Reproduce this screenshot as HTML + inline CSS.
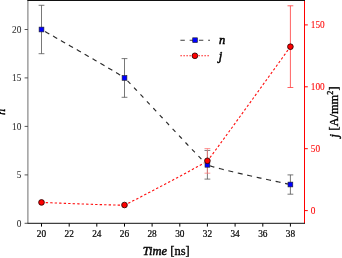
<!DOCTYPE html>
<html><head><meta charset="utf-8"><title>chart</title>
<style>svg{will-change:transform;opacity:.999}html,body{margin:0;padding:0;background:#fff;overflow:hidden}body{width:342px;height:258px;font-family:"Liberation Serif",serif}</style></head>
<body>
<svg width="342" height="258" viewBox="0 0 342 258" style="display:block;font-family:'Liberation Serif',serif">
<rect width="342" height="258" fill="#fff"/>
<line x1="27.9" y1="0" x2="27.9" y2="223.3" stroke="#7c7c7c" stroke-width="1.1"/>
<line x1="304.5" y1="0" x2="304.5" y2="223.3" stroke="#ff0000" stroke-width="1"/>
<line x1="27.4" y1="0.4" x2="305.0" y2="0.4" stroke="#111" stroke-width="1.05"/>
<line x1="27.4" y1="223.3" x2="305.0" y2="223.3" stroke="#111" stroke-width="1"/>
<line x1="41.5" y1="223.3" x2="41.5" y2="226.6" stroke="#000" stroke-width="1"/>
<text x="41.5" y="237" font-size="9.3" stroke="#000" stroke-width="0.2" text-anchor="middle" fill="#000">20</text>
<line x1="69.2" y1="223.3" x2="69.2" y2="226.6" stroke="#000" stroke-width="1"/>
<text x="69.2" y="237" font-size="9.3" stroke="#000" stroke-width="0.2" text-anchor="middle" fill="#000">22</text>
<line x1="96.8" y1="223.3" x2="96.8" y2="226.6" stroke="#000" stroke-width="1"/>
<text x="96.8" y="237" font-size="9.3" stroke="#000" stroke-width="0.2" text-anchor="middle" fill="#000">24</text>
<line x1="124.5" y1="223.3" x2="124.5" y2="226.6" stroke="#000" stroke-width="1"/>
<text x="124.5" y="237" font-size="9.3" stroke="#000" stroke-width="0.2" text-anchor="middle" fill="#000">26</text>
<line x1="152.1" y1="223.3" x2="152.1" y2="226.6" stroke="#000" stroke-width="1"/>
<text x="152.1" y="237" font-size="9.3" stroke="#000" stroke-width="0.2" text-anchor="middle" fill="#000">28</text>
<line x1="179.8" y1="223.3" x2="179.8" y2="226.6" stroke="#000" stroke-width="1"/>
<text x="179.8" y="237" font-size="9.3" stroke="#000" stroke-width="0.2" text-anchor="middle" fill="#000">30</text>
<line x1="207.4" y1="223.3" x2="207.4" y2="226.6" stroke="#000" stroke-width="1"/>
<text x="207.4" y="237" font-size="9.3" stroke="#000" stroke-width="0.2" text-anchor="middle" fill="#000">32</text>
<line x1="235.1" y1="223.3" x2="235.1" y2="226.6" stroke="#000" stroke-width="1"/>
<text x="235.1" y="237" font-size="9.3" stroke="#000" stroke-width="0.2" text-anchor="middle" fill="#000">34</text>
<line x1="262.8" y1="223.3" x2="262.8" y2="226.6" stroke="#000" stroke-width="1"/>
<text x="262.8" y="237" font-size="9.3" stroke="#000" stroke-width="0.2" text-anchor="middle" fill="#000">36</text>
<line x1="290.4" y1="223.3" x2="290.4" y2="226.6" stroke="#000" stroke-width="1"/>
<text x="290.4" y="237" font-size="9.3" stroke="#000" stroke-width="0.2" text-anchor="middle" fill="#000">38</text>
<line x1="24.6" y1="223.3" x2="27.9" y2="223.3" stroke="#444" stroke-width="0.9"/>
<text x="21.3" y="226.6" font-size="9.3" text-anchor="end" fill="#333" stroke="#333" stroke-width="0.08">0</text>
<line x1="24.6" y1="174.9" x2="27.9" y2="174.9" stroke="#444" stroke-width="0.9"/>
<text x="21.3" y="178.2" font-size="9.3" text-anchor="end" fill="#333" stroke="#333" stroke-width="0.08">5</text>
<line x1="24.6" y1="126.4" x2="27.9" y2="126.4" stroke="#444" stroke-width="0.9"/>
<text x="21.3" y="129.7" font-size="9.3" text-anchor="end" fill="#333" stroke="#333" stroke-width="0.08">10</text>
<line x1="24.6" y1="77.9" x2="27.9" y2="77.9" stroke="#444" stroke-width="0.9"/>
<text x="21.3" y="81.2" font-size="9.3" text-anchor="end" fill="#333" stroke="#333" stroke-width="0.08">15</text>
<line x1="24.6" y1="29.5" x2="27.9" y2="29.5" stroke="#444" stroke-width="0.9"/>
<text x="21.3" y="32.8" font-size="9.3" text-anchor="end" fill="#333" stroke="#333" stroke-width="0.08">20</text>
<line x1="304.5" y1="210.6" x2="307.8" y2="210.6" stroke="#ff0000" stroke-width="1"/>
<text x="310.8" y="213.9" font-size="9.3" text-anchor="start" fill="#ff0808" stroke="#ff0808" stroke-width="0.08">0</text>
<line x1="304.5" y1="148.7" x2="307.8" y2="148.7" stroke="#ff0000" stroke-width="1"/>
<text x="310.8" y="152.0" font-size="9.3" text-anchor="start" fill="#ff0808" stroke="#ff0808" stroke-width="0.08">50</text>
<line x1="304.5" y1="86.8" x2="307.8" y2="86.8" stroke="#ff0000" stroke-width="1"/>
<text x="310.8" y="90.1" font-size="9.3" text-anchor="start" fill="#ff0808" stroke="#ff0808" stroke-width="0.08">100</text>
<line x1="304.5" y1="24.9" x2="307.8" y2="24.9" stroke="#ff0000" stroke-width="1"/>
<text x="310.8" y="28.2" font-size="9.3" text-anchor="start" fill="#ff0808" stroke="#ff0808" stroke-width="0.08">150</text>
<path d="M41.5 5.3 V53.7 M38.6 5.3 H44.4 M38.6 53.7 H44.4" stroke="#555" stroke-width="0.8" fill="none"/>
<path d="M124.5 58.6 V97.3 M121.6 58.6 H127.4 M121.6 97.3 H127.4" stroke="#555" stroke-width="0.8" fill="none"/>
<path d="M207.4 150.4 V179.1 M204.5 150.4 H210.3 M204.5 179.1 H210.3" stroke="#555" stroke-width="0.8" fill="none"/>
<path d="M290.4 174.9 V194.2 M287.5 174.9 H293.3 M287.5 194.2 H293.3" stroke="#555" stroke-width="0.8" fill="none"/>
<path d="M207.4 148.5 V173.2 M204.5 148.5 H210.3 M204.5 173.2 H210.3" stroke="#ff7474" stroke-width="0.72" fill="none"/>
<path d="M290.4 5.8 V87.5 M287.5 5.8 H293.3 M287.5 87.5 H293.3" stroke="#ff4646" stroke-width="0.85" fill="none"/>
<path d="M45.14 31.55 L46.25 32.19 L47.49 32.89 L48.85 33.67 L50.32 34.51 L51.90 35.41 L53.58 36.36 L55.35 37.38 L57.21 38.44 L59.15 39.54 L61.16 40.69 L63.23 41.88 L65.37 43.10 L67.55 44.35 L69.79 45.63 L72.06 46.93 L74.36 48.25 L76.69 49.59 L79.04 50.94 L81.40 52.30 L83.76 53.66 L86.12 55.02 L88.48 56.38 L90.82 57.74 L93.13 59.08 L95.42 60.41 L97.67 61.72 L99.88 63.00 L102.05 64.27 L104.15 65.50 L106.19 66.70 L108.16 67.86 L110.06 68.98 L111.88 70.06 L113.60 71.09 L115.23 72.06 L116.75 72.98 L118.16 73.84 L119.46 74.64 L120.63 75.37 L121.17 75.71" fill="none" stroke="#2a2a2a" stroke-width="1.15" stroke-dasharray="4.8 4.3"/>
<path d="M127.51 80.86 L128.56 81.93 L129.73 83.14 L131.02 84.49 L132.42 85.95 L133.93 87.54 L135.53 89.23 L137.23 91.03 L139.02 92.92 L140.88 94.90 L142.82 96.96 L144.82 99.10 L146.88 101.30 L149.00 103.56 L151.17 105.88 L153.38 108.24 L155.62 110.64 L157.89 113.07 L160.19 115.53 L162.49 118.00 L164.81 120.48 L167.14 122.96 L169.46 125.44 L171.76 127.91 L174.06 130.35 L176.33 132.78 L178.57 135.16 L180.78 137.51 L182.95 139.81 L185.07 142.06 L187.13 144.24 L189.13 146.35 L191.07 148.39 L192.93 150.34 L194.72 152.20 L196.42 153.97 L198.02 155.63 L199.53 157.17 L200.93 158.60 L202.22 159.90 L203.39 161.07 L204.44 162.09 L204.44 162.09" fill="none" stroke="#2a2a2a" stroke-width="1.15" stroke-dasharray="4.2 5.2"/>
<path d="M209.58 165.69 L210.52 166.00 L211.60 166.34 L212.80 166.71 L214.13 167.09 L215.57 167.49 L217.12 167.91 L218.77 168.35 L220.52 168.80 L222.36 169.27 L224.27 169.75 L226.26 170.24 L228.32 170.74 L230.44 171.24 L232.61 171.76 L234.84 172.28 L237.10 172.81 L239.39 173.34 L241.72 173.87 L244.06 174.41 L246.42 174.94 L248.78 175.48 L251.14 176.01 L253.50 176.53 L255.84 177.05 L258.17 177.57 L260.46 178.07 L262.73 178.57 L264.95 179.05 L267.12 179.53 L269.24 179.99 L271.30 180.43 L273.30 180.86 L275.21 181.28 L277.05 181.67 L278.80 182.05 L280.45 182.40 L282.01 182.74 L283.45 183.04 L284.78 183.33 L285.99 183.59 L287.07 183.82 L288.01 184.02 L288.22 184.07" fill="none" stroke="#2a2a2a" stroke-width="1.15" stroke-dasharray="5.0 4.7"/>
<path d="M45.68 202.59 L46.88 202.64 L48.21 202.69 L49.67 202.75 L51.24 202.81 L52.92 202.88 L54.71 202.95 L56.58 203.02 L58.54 203.10 L60.58 203.18 L62.70 203.26 L64.87 203.35 L67.11 203.43 L69.39 203.52 L71.72 203.61 L74.08 203.70 L76.47 203.78 L78.87 203.87 L81.29 203.96 L83.72 204.05 L86.14 204.14 L88.56 204.22 L90.96 204.30 L93.33 204.39 L95.67 204.47 L97.98 204.54 L100.23 204.61 L102.44 204.68 L104.58 204.75 L106.65 204.81 L108.65 204.87 L110.57 204.92 L112.39 204.97 L114.12 205.01 L115.74 205.05 L117.25 205.08 L118.64 205.10 L119.90 205.12 L120.48 205.12" fill="none" stroke="#ff1010" stroke-width="1.12" stroke-dasharray="2.4 2.1"/>
<path d="M128.19 203.32 L129.33 202.74 L130.61 202.10 L132.01 201.39 L133.53 200.62 L135.15 199.79 L136.88 198.90 L138.70 197.96 L140.61 196.97 L142.60 195.94 L144.67 194.87 L146.80 193.76 L148.99 192.61 L151.23 191.44 L153.52 190.24 L155.84 189.01 L158.20 187.77 L160.58 186.52 L162.97 185.25 L165.37 183.98 L167.78 182.70 L170.18 181.43 L172.57 180.16 L174.93 178.89 L177.27 177.64 L179.58 176.40 L181.85 175.19 L184.06 173.99 L186.22 172.83 L188.32 171.69 L190.35 170.59 L192.30 169.52 L194.17 168.50 L195.95 167.53 L197.62 166.60 L199.20 165.73 L200.65 164.91 L201.99 164.15 L203.21 163.46 L204.03 162.99" fill="none" stroke="#ff1010" stroke-width="1.12" stroke-dasharray="2.4 2.1"/>
<path d="M209.93 157.68 L210.92 156.36 L212.05 154.85 L213.31 153.15 L214.70 151.27 L216.21 149.22 L217.83 147.01 L219.56 144.65 L221.38 142.15 L223.30 139.53 L225.30 136.79 L227.37 133.94 L229.51 130.99 L231.72 127.96 L233.97 124.85 L236.28 121.67 L238.62 118.44 L240.99 115.16 L243.39 111.85 L245.81 108.51 L248.23 105.16 L250.66 101.81 L253.08 98.46 L255.48 95.12 L257.87 91.82 L260.23 88.55 L262.56 85.32 L264.84 82.16 L267.08 79.06 L269.25 76.04 L271.37 73.11 L273.41 70.28 L275.37 67.56 L277.24 64.96 L279.03 62.48 L280.71 60.15 L282.28 57.96 L283.74 55.94 L285.07 54.09 L286.27 52.42 L287.34 50.94 L288.04 49.96" fill="none" stroke="#ff1010" stroke-width="1.12" stroke-dasharray="2.4 2.1"/>
<rect x="39.1" y="27.1" width="4.8" height="4.8" fill="#0000ff" stroke="#222" stroke-width="0.6"/>
<rect x="122.1" y="75.5" width="4.8" height="4.8" fill="#0000ff" stroke="#222" stroke-width="0.6"/>
<rect x="205.0" y="162.4" width="4.8" height="4.8" fill="#0000ff" stroke="#222" stroke-width="0.6"/>
<rect x="288.0" y="182.1" width="4.8" height="4.8" fill="#0000ff" stroke="#222" stroke-width="0.6"/>
<circle cx="41.5" cy="202.4" r="2.85" fill="#ff0000" stroke="#200" stroke-width="0.8"/>
<circle cx="124.5" cy="205.0" r="2.85" fill="#ff0000" stroke="#200" stroke-width="0.8"/>
<circle cx="207.4" cy="160.8" r="2.85" fill="#ff0000" stroke="#200" stroke-width="0.8"/>
<circle cx="290.4" cy="46.7" r="2.85" fill="#ff0000" stroke="#200" stroke-width="0.8"/>
<line x1="180.4" y1="40.2" x2="210" y2="40.2" stroke="#3c3c3c" stroke-width="1.05" stroke-dasharray="4.4 4.85"/>
<rect x="192.7" y="37.8" width="4.8" height="4.8" fill="#0000ff" stroke="#222" stroke-width="0.6"/>
<line x1="180.4" y1="55.8" x2="210" y2="55.8" stroke="#ff1818" stroke-width="1.05" stroke-dasharray="1.5 1.5"/>
<circle cx="194.9" cy="55.8" r="2.85" fill="#ff0000" stroke="#200" stroke-width="0.8"/>
<text x="218.9" y="44.1" font-size="12.5" font-style="italic" stroke="#000" stroke-width="0.52" fill="#000">n</text>
<text x="218.7" y="59.8" font-size="12.5" font-style="italic" stroke="#000" stroke-width="0.52" fill="#000">j</text>
<text x="142.8" y="255" font-size="12.5" fill="#000" stroke="#000" stroke-width="0.33"><tspan font-style="italic" stroke="#000" stroke-width="0.42">Time</tspan> [ns]</text>
<text transform="translate(5.2 111.8) rotate(-90)" font-size="12.5" text-anchor="middle" font-style="italic" stroke="#000" stroke-width="0.42" fill="#000">n</text>
<text transform="translate(337.5 111.9) rotate(-90)" font-size="12.5" text-anchor="middle" fill="#000" stroke="#000" stroke-width="0.33"><tspan font-style="italic" stroke="#000" stroke-width="0.42">j</tspan> [A/mm<tspan font-size="8.2" dy="-4.5">2</tspan><tspan dy="4.5">]</tspan></text>
</svg>
</body></html>
